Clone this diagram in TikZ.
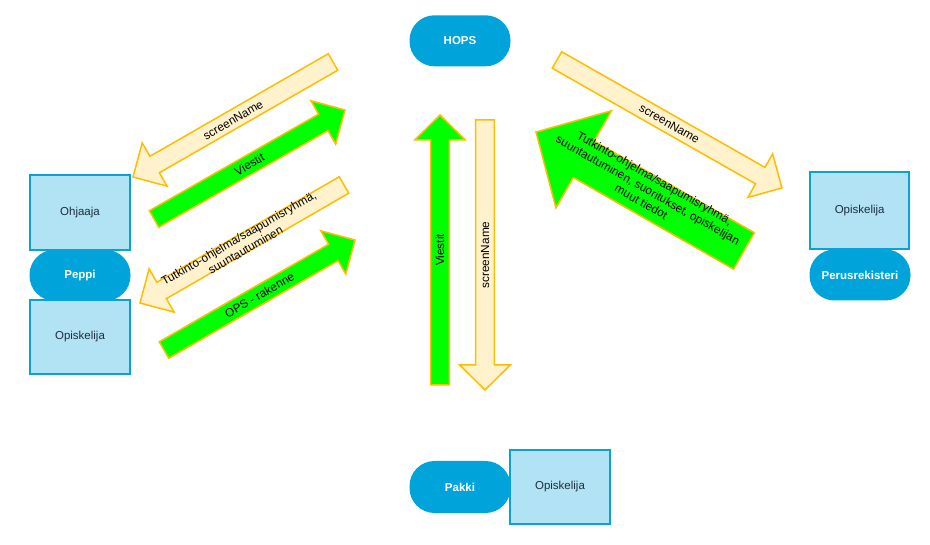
\documentclass[tikz,border=0pt]{standalone}
\usepackage{fontspec}
\setmainfont{Liberation Sans}
\usetikzlibrary{calc}
\definecolor{nodeblue}{HTML}{00A3DA}
\definecolor{boxfill}{HTML}{B1E3F4}
\definecolor{boxline}{HTML}{0AA0D8}
\definecolor{beige}{HTML}{FFF2CC}
\definecolor{arrline}{HTML}{FFBC00}
\definecolor{agreen}{HTML}{00FF00}
\definecolor{boxtext}{HTML}{1F2D3D}
\tikzset{
  sysnode/.style={rectangle, rounded corners=25pt, fill=nodeblue, draw=none,
    minimum width=101pt, minimum height=51pt, text=white, inner sep=0pt,
    font=\fontsize{11.5}{13}\selectfont\bfseries},
  rolebox/.style={rectangle, fill=boxfill, draw=boxline, line width=2pt,
    minimum width=99.5pt, minimum height=74.5pt, text=boxtext, inner sep=0pt,
    font=\fontsize{11.5}{13}\selectfont},
  beigearr/.style={fill=beige, draw=arrline, line width=1.5pt},
  greenarr/.style={fill=agreen, draw=arrline, line width=1.5pt},
  arrlabel/.style={font=\fontsize{11.8}{13.5}\selectfont, align=center,
    inner sep=0pt, text=black}
}
% block arrow: style, from, to, shaft half width, head half width, head length
\newcommand{\blockarrow}[6]{%
  \coordinate (hb) at ($(#3)!#6!(#2)$);
  \draw[#1] ($(#2)!#4!90:(#3)$) -- ($(hb)!#4!90:(#3)$) -- ($(hb)!#5!90:(#3)$)
    -- (#3) -- ($(hb)!#5!-90:(#3)$) -- ($(hb)!#4!-90:(#3)$)
    -- ($(#2)!#4!-90:(#3)$) -- cycle;
}
\begin{document}
\begin{tikzpicture}[x=1pt,y=-1pt]
\useasboundingbox (0,0) rectangle (930,545);

% system nodes
\node[sysnode] (hops) at (460,40.8) {HOPS};
\node[sysnode] (peppi) at (80,275.3) {Peppi};
\node[sysnode] (perus) at (860,275) {Perusrekisteri};
\node[sysnode, minimum height=52pt] (pakki) at (460,487) {Pakki};

% role boxes
\node[rolebox] (ohjaaja) at (80,212.5) {Ohjaaja};
\node[rolebox] (opiskL) at (80,337) {Opiskelija};
\node[rolebox, minimum width=98.7pt, minimum height=77.3pt] (opiskR) at (859.7,210.3) {Opiskelija};
\node[rolebox, minimum width=100pt, minimum height=74pt] (opiskB) at (560,487) {Opiskelija};

% arrow end points
\coordinate (a1s) at (333,62);   \coordinate (a1e) at (133,177);
\coordinate (a2s) at (154,219);  \coordinate (a2e) at (345,110);
\coordinate (a3s) at (344,185);  \coordinate (a3e) at (140,303);
\coordinate (a4s) at (164,350);  \coordinate (a4e) at (355,240);
\coordinate (a5s) at (440,385);  \coordinate (a5e) at (440,115);
\coordinate (a6s) at (485,120);  \coordinate (a6e) at (485,390);
\coordinate (a7s) at (557,60);   \coordinate (a7e) at (782,188);
\coordinate (a8s) at (744,251);  \coordinate (a8e) at (536,132);

\blockarrow{beigearr}{a1s}{a1e}{9.5pt}{25pt}{25pt}
\node[arrlabel, rotate=29.9] (l1) at (233,120) {screenName};

\blockarrow{greenarr}{a2s}{a2e}{9.5pt}{25pt}{25pt}
\node[arrlabel, rotate=29.7] (l2) at (249.5,164.5) {Viestit};

\blockarrow{beigearr}{a3s}{a3e}{9.5pt}{25pt}{25pt}
\node[arrlabel, rotate=30] (l3) at (242,244) {Tutkinto-ohjelma/saapumisryhmä,\\suuntautuminen};

\blockarrow{greenarr}{a4s}{a4e}{9.5pt}{25pt}{25pt}
\node[arrlabel, rotate=30] (l4) at (259.5,295) {OPS - rakenne};

\blockarrow{greenarr}{a5s}{a5e}{9.3pt}{25.3pt}{25pt}
\node[arrlabel, rotate=90] (l5) at (440,250) {Viestit};

\blockarrow{beigearr}{a6s}{a6e}{9.3pt}{25.3pt}{25pt}
\node[arrlabel, rotate=90] (l6) at (485,255) {screenName};

\blockarrow{beigearr}{a7s}{a7e}{9.5pt}{25pt}{25pt}
\node[arrlabel, rotate=-29.6] (l7) at (669.5,124) {screenName};

\blockarrow{greenarr}{a8s}{a8e}{21pt}{56pt}{55pt}
\node[arrlabel, rotate=-29.7] (l8) at (648,190) {Tutkinto-ohjelma/saapumisryhmä,\\suuntautuminen, suoritukset, opiskelijan\\muut tiedot};
\end{tikzpicture}
\end{document}
